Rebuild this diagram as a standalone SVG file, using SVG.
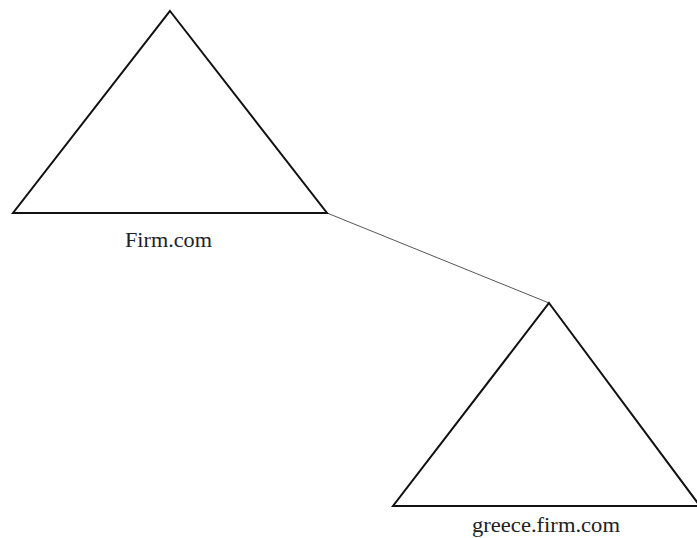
<svg xmlns="http://www.w3.org/2000/svg" width="697" height="538" viewBox="0 0 697 538">
<style>
.tri{fill:none;stroke:#111;stroke-width:2;stroke-linejoin:miter}
.lbl{font-family:"Liberation Serif","Times New Roman",serif;font-size:20px;fill:#222;text-anchor:middle}
.conn{stroke:#555;stroke-width:1;fill:none}
</style>
<rect width="697" height="538" fill="#fff"/>
<g id="connectors">
<line class="conn" x1="327" y1="213" x2="549" y2="303"/>
</g>
<g id="firm">
<polygon class="tri" points="170,11 327,213 13,213"/>
<text class="lbl" x="168.5" y="247" textLength="87" lengthAdjust="spacingAndGlyphs">Firm.com</text>
</g>
<g id="greece">
<polygon class="tri" points="549,303 700,506 393,506"/>
<text class="lbl" x="546" y="532" textLength="148" lengthAdjust="spacingAndGlyphs">greece.firm.com</text>
</g>
</svg>
